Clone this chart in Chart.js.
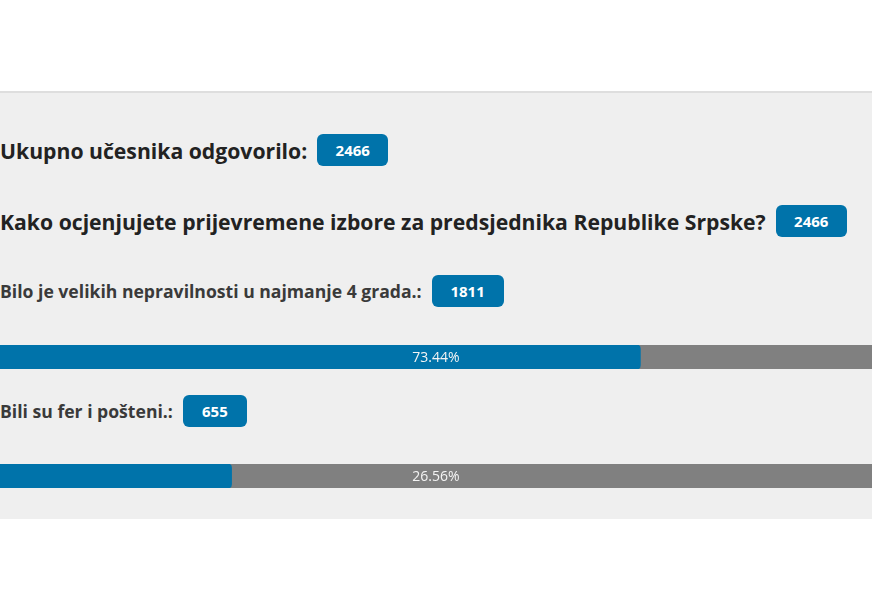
<!DOCTYPE html>
<html>
<head>
<meta charset="utf-8">
<script src="https://cdn.jsdelivr.net/npm/chart.js@4/dist/chart.umd.min.js"></script>
<style>
    body { margin: 0; background: #ffffff; font-family: "Open Sans", sans-serif; width: 872px; height: 610px; overflow: hidden; }
    .panel { position: absolute; left: 0; top: 91px; width: 872px; height: 426px; background: #efefef; border-top: 2px solid #dedede; }
    .row { position: absolute; left: 0; display: flex; align-items: center; height: 32px; white-space: nowrap; }
    .title { font-size: 21.2px; font-weight: 700; color: #222222; }
    .label { font-size: 17.6px; font-weight: 700; color: #3a3a3a; }
    .badge { display: inline-block; background: #0073aa; color: #ffffff; font-size: 15px; font-weight: 700; border-radius: 6px; height: 32px; line-height: 32px; text-align: center; margin-left: 10px; }
    .bar { position: absolute; left: 0; width: 872px; height: 24px; }
</style>
</head>
<body>
<div class="panel"></div>
<div class="row title" style="top:134px">Ukupno učesnika odgovorilo: <span class="badge" style="width:71px">2466</span></div>
<div class="row title" style="top:205px">Kako ocjenjujete prijevremene izbore za predsjednika Republike Srpske? <span class="badge" style="width:71px">2466</span></div>
<div id="items"></div>

<script>
// Podaci ankete
const totalResponses = 2466;
const answers = ['Bilo je velikih nepravilnosti u najmanje 4 grada.:', 'Bili su fer i pošteni.:'];
const votes = [1811, 655];
const percents = [73.44, 26.56];
const trackMax = [100];

const rowTops = [275, 395];
const barTops = [345, 464];

// Natpis s postotkom na sredini trake
const percentLabel = {
    id: 'percentLabel',
    afterDatasetsDraw(chart) {
        const { ctx, chartArea } = chart;
        ctx.save();
        ctx.fillStyle = '#f4f4f4';
        ctx.font = '14px "Open Sans", sans-serif';
        ctx.textAlign = 'center';
        ctx.textBaseline = 'middle';
        ctx.fillText(chart.options.plugins.percentLabel.text, (chartArea.left + chartArea.right) / 2, (chartArea.top + chartArea.bottom) / 2 + 1);
        ctx.restore();
    }
};

const items = document.getElementById('items');
answers.forEach((answer, i) => {
    const row = document.createElement('div');
    row.className = 'row label';
    row.style.top = rowTops[i] + 'px';
    row.innerHTML = answer + ' <span class="badge" style="width:' + (i === 0 ? 72 : 64) + 'px">' + votes[i] + '</span>';
    items.appendChild(row);

    const wrap = document.createElement('div');
    wrap.className = 'bar';
    wrap.style.top = barTops[i] + 'px';
    const canvas = document.createElement('canvas');
    wrap.appendChild(canvas);
    items.appendChild(wrap);

    new Chart(canvas.getContext('2d'), {
        type: 'bar',
        data: {
            labels: [answer],
            datasets: [
                {
                    data: [percents[i]],
                    backgroundColor: '#0073aa',
                    borderRadius: { topLeft: 0, bottomLeft: 0, topRight: 4, bottomRight: 4 },
                    borderSkipped: false,
                    order: 0
                },
                {
                    data: trackMax,
                    backgroundColor: '#808080',
                    order: 1
                }
            ]
        },
        plugins: [percentLabel],
        options: {
            indexAxis: 'y',
            responsive: true,
            maintainAspectRatio: false,
            animation: false,
            layout: { padding: 0 },
            datasets: { bar: { grouped: false, barPercentage: 1, categoryPercentage: 1 } },
            plugins: {
                legend: { display: false },
                tooltip: { enabled: false },
                percentLabel: { text: percents[i].toFixed(2) + '%' }
            },
            scales: {
                x: { display: false, min: 0, max: 100 },
                y: { display: false }
            }
        }
    });
});
</script>
</body>
</html>
